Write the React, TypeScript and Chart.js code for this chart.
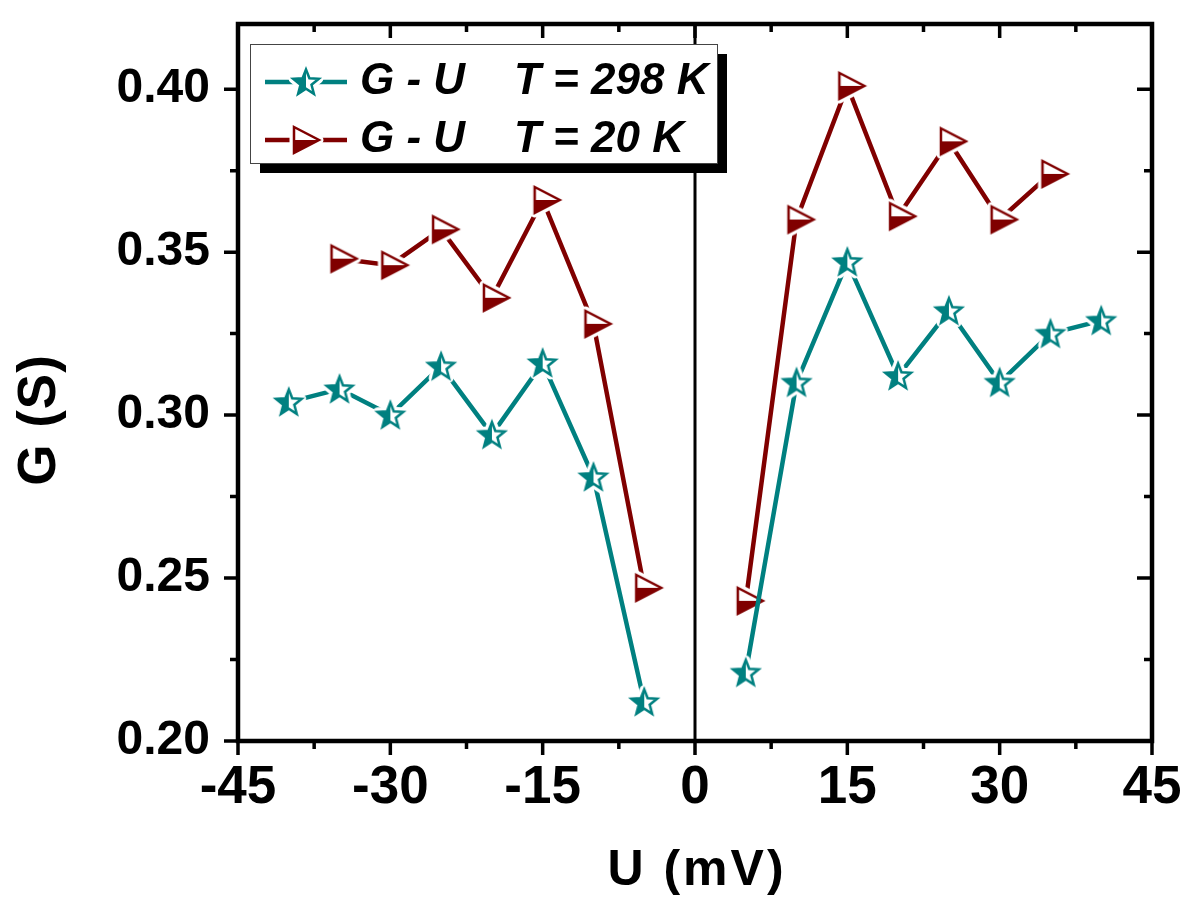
import React, { useEffect, useRef } from "react";
import { Chart, registerables } from "chart.js";

Chart.register(...registerables);

const U_298 = [-40, -35, -30, -25, -20, -15, -10, -5, 5, 10, 15, 20, 25, 30, 35, 40];
const G_298 = [0.304, 0.308, 0.3, 0.315, 0.294, 0.316, 0.281, 0.212, 0.221, 0.31, 0.347, 0.312, 0.332, 0.31, 0.325, 0.329];
const U_20 = [-35, -30, -25, -20, -15, -10, -5, 5, 10, 15, 20, 25, 30, 35];
const G_20 = [0.348, 0.346, 0.357, 0.336, 0.366, 0.328, 0.247, 0.243, 0.36, 0.401, 0.361, 0.384, 0.36, 0.374];
const X_TICKS = [-45, -30, -15, 0, 15, 30, 45];
const X_MINOR = [-37.5, -22.5, -7.5, 7.5, 22.5, 37.5];
const Y_TICKS = [0.2, 0.25, 0.3, 0.35, 0.4];
const Y_MINOR = [0.225, 0.275, 0.325, 0.375];
const LABEL_298 = "G - U    T = 298 K";
const LABEL_20 = "G - U    T = 20 K";
const X_TITLE = "U (mV)";
const Y_TITLE = "G (S)";

const TEAL = "rgb(0,128,128)";
const RED = "rgb(128,0,0)";
const FONT = '"Liberation Sans", Arial, sans-serif';
const LINE_W = 4.5;

function makeStar(color: string): HTMLCanvasElement {
  const S = 40;
  const c = document.createElement("canvas");
  c.width = S;
  c.height = S;
  const g = c.getContext("2d")!;
  const cx = S / 2, cy = S / 2 + 1;
  const R = 13.5, r = 5.8;
  const p = new Path2D();
  for (let i = 0; i < 10; i++) {
    const a = -Math.PI / 2 + (i * Math.PI) / 5;
    const rad = i % 2 === 0 ? R : r;
    const px = cx + rad * Math.cos(a), py = cy + rad * Math.sin(a);
    if (i === 0) p.moveTo(px, py); else p.lineTo(px, py);
  }
  p.closePath();
  g.lineJoin = "round";
  g.strokeStyle = "#fff";
  g.lineWidth = 9;
  g.stroke(p);
  g.fillStyle = "#fff";
  g.fill(p);
  g.save();
  g.beginPath();
  g.rect(0, 0, cx, S);
  g.clip();
  g.fillStyle = color;
  g.fill(p);
  g.restore();
  g.strokeStyle = color;
  g.lineWidth = 2.5;
  g.lineJoin = "miter";
  g.stroke(p);
  return c;
}

function makeTri(color: string): HTMLCanvasElement {
  const W = 48, H = 40;
  const c = document.createElement("canvas");
  c.width = W;
  c.height = H;
  const g = c.getContext("2d")!;
  const cx = W / 2, cy = H / 2;
  const p = new Path2D();
  p.moveTo(cx - 8, cy - 13);
  p.lineTo(cx + 17, cy);
  p.lineTo(cx - 8, cy + 13);
  p.closePath();
  g.lineJoin = "round";
  g.strokeStyle = "#fff";
  g.lineWidth = 9;
  g.stroke(p);
  g.fillStyle = "#fff";
  g.fill(p);
  g.save();
  g.beginPath();
  g.rect(0, cy, W, H);
  g.clip();
  g.fillStyle = color;
  g.fill(p);
  g.restore();
  g.strokeStyle = color;
  g.lineWidth = 2.5;
  g.lineJoin = "miter";
  g.stroke(p);
  return c;
}

const decor = {
  id: "decor",
  beforeDatasetsDraw(chart: any) {
    const { ctx, chartArea: a, scales } = chart;
    const zx = scales.x.getPixelForValue(0);
    ctx.save();
    ctx.strokeStyle = "#000";
    ctx.lineWidth = 3;
    ctx.beginPath();
    ctx.moveTo(zx, a.top);
    ctx.lineTo(zx, a.bottom);
    ctx.stroke();
    ctx.restore();
  },
  afterDatasetsDraw(chart: any) {
    const { ctx, chartArea: a, scales } = chart;
    const x = scales.x, y = scales.y;
    ctx.save();
    ctx.strokeStyle = "#000";
    ctx.lineWidth = 4.5;
    ctx.strokeRect(a.left, a.top, a.right - a.left, a.bottom - a.top);
    ctx.lineWidth = 3.5;
    ctx.beginPath();
    const xt = (v: number, len: number, inLen: number) => {
      const px = x.getPixelForValue(v);
      ctx.moveTo(px, a.bottom);
      ctx.lineTo(px, a.bottom + len);
      ctx.moveTo(px, a.top);
      ctx.lineTo(px, a.top + inLen);
    };
    const yt = (v: number, len: number, inLen: number) => {
      const py = y.getPixelForValue(v);
      ctx.moveTo(a.left, py);
      ctx.lineTo(a.left - len, py);
      ctx.moveTo(a.right, py);
      ctx.lineTo(a.right - inLen, py);
    };
    X_TICKS.forEach((v) => xt(v, 14, 14));
    X_MINOR.forEach((v) => xt(v, 8, 8));
    Y_TICKS.forEach((v) => yt(v, 14, 15));
    Y_MINOR.forEach((v) => yt(v, 8, 8));
    ctx.stroke();

    // axis titles
    ctx.fillStyle = "#000";
    ctx.font = `bold 50px ${FONT}`;
    (ctx as any).letterSpacing = "3px";
    ctx.textAlign = "center";
    ctx.textBaseline = "alphabetic";
    ctx.fillText(X_TITLE, 697, 885);
    ctx.save();
    ctx.translate(55, 420);
    ctx.rotate(-Math.PI / 2);
    ctx.font = `bold 53px ${FONT}`;
    (ctx as any).letterSpacing = "1px";
    ctx.fillText(Y_TITLE, 0, 0);
    ctx.restore();
    (ctx as any).letterSpacing = "0px";

    // legend
    const lx = 250, ly = 44, lw = 467, lh = 119;
    ctx.fillStyle = "#000";
    ctx.fillRect(lx + 10, ly + 10, lw, lh);
    ctx.fillStyle = "#fff";
    ctx.fillRect(lx, ly, lw, lh);
    ctx.strokeStyle = "#444";
    ctx.lineWidth = 1;
    ctx.strokeRect(lx + 0.5, ly + 0.5, lw, lh);
    const rows = [82, 140];
    chart.data.datasets.forEach((ds: any, i: number) => {
      const ry = rows[i];
      ctx.strokeStyle = ds.borderColor;
      ctx.lineWidth = LINE_W;
      ctx.beginPath();
      ctx.moveTo(265, ry);
      ctx.lineTo(347, ry);
      ctx.stroke();
      const img = ds.pointStyle as HTMLCanvasElement;
      const dx = i === 1 ? -4 : 0;
      ctx.drawImage(img, 306 + dx - img.width / 2, ry - img.height / 2);
      ctx.fillStyle = "#000";
      ctx.font = `italic bold 44px ${FONT}`;
      ctx.textAlign = "left";
      ctx.textBaseline = "alphabetic";
      ctx.fillText(ds.label, 360, ry + 11.5);
    });
    ctx.restore();
  },
};

const hideAcrossZero = (c: any) =>
  c.p0.parsed.x < 0 && c.p1.parsed.x > 0 ? "rgba(0,0,0,0)" : undefined;

export default function App() {
  const ref = useRef<HTMLCanvasElement | null>(null);
  useEffect(() => {
    if (!ref.current) return;
    const star = makeStar(TEAL);
    const tri = makeTri(RED);
    const chart = new Chart(ref.current, {
      type: "line",
      data: {
        datasets: [
          {
            label: LABEL_298,
            data: U_298.map((u, i) => ({ x: u, y: G_298[i] })),
            borderColor: TEAL,
            backgroundColor: TEAL,
            borderWidth: LINE_W,
            pointStyle: star as any,
            pointRadius: 12,
            tension: 0,
            fill: false,
            segment: { borderColor: hideAcrossZero },
          },
          {
            label: LABEL_20,
            data: U_20.map((u, i) => ({ x: u, y: G_20[i] })),
            borderColor: RED,
            backgroundColor: RED,
            borderWidth: LINE_W,
            pointStyle: tri as any,
            pointRadius: 12,
            tension: 0,
            fill: false,
            segment: { borderColor: hideAcrossZero },
          },
        ],
      },
      options: {
        animation: false,
        responsive: true,
        maintainAspectRatio: false,
        events: [],
        layout: { padding: { top: 24, right: 48, left: 0, bottom: 0 } },
        plugins: { legend: { display: false }, tooltip: { enabled: false } },
        scales: {
          x: {
            type: "linear",
            min: -45,
            max: 45,
            afterBuildTicks: (s: any) => {
              s.ticks = X_TICKS.map((v) => ({ value: v }));
            },
            afterFit: (s: any) => {
              s.height = 168;
              s.paddingLeft = 0;
              s.paddingRight = 0;
            },
            grid: { display: false, drawTicks: true, tickLength: 14 },
            border: { display: false },
            ticks: {
              color: "#000",
              padding: 2,
              maxRotation: 0,
              autoSkip: false,
              font: { family: FONT, size: 53, weight: "bold" },
              callback: (v: any) => String(v),
            },
          },
          y: {
            type: "linear",
            min: 0.2,
            max: 0.42,
            afterBuildTicks: (s: any) => {
              s.ticks = Y_TICKS.map((v) => ({ value: v }));
            },
            afterFit: (s: any) => {
              s.width = 238;
              s.paddingTop = 0;
              s.paddingBottom = 0;
            },
            grid: { display: false, drawTicks: true, tickLength: 14 },
            border: { display: false },
            ticks: {
              color: "#000",
              padding: 14,
              autoSkip: false,
              font: { family: FONT, size: 48, weight: "bold" },
              callback: (v: any) => Number(v).toFixed(2),
            },
          },
        },
      },
      plugins: [decor],
    });
    return () => chart.destroy();
  }, []);
  return (
    <div style={{ position: "fixed", left: 0, top: 0, width: 1200, height: 909, background: "#fff" }}>
      <canvas ref={ref} />
    </div>
  );
}
